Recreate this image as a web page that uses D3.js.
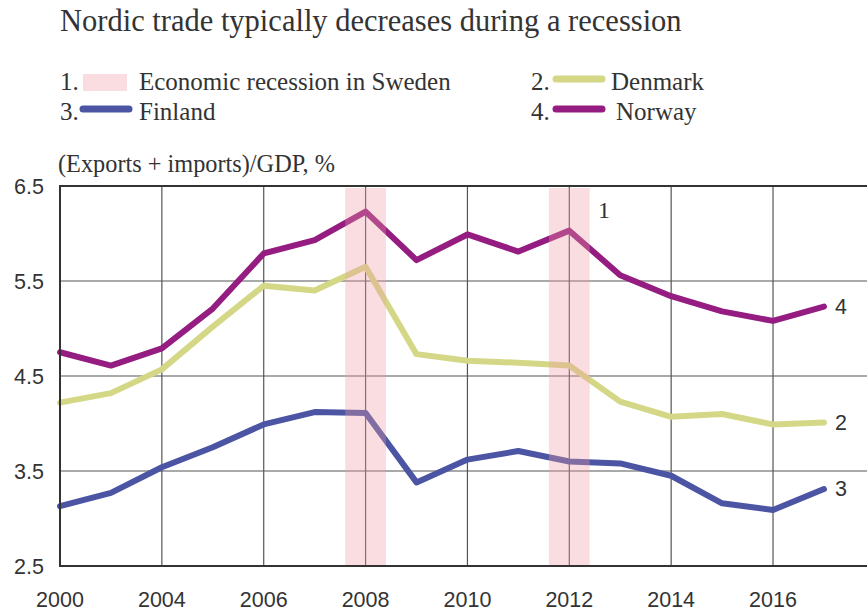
<!DOCTYPE html>
<html><head><meta charset="utf-8">
<script src="https://cdn.jsdelivr.net/npm/d3@7/dist/d3.min.js"></script>
<style>body{margin:0;background:#fff}svg{display:block}text{font-family:"Liberation Serif","DejaVu Serif",serif;fill:#333}.sans{font-family:"Liberation Sans","DejaVu Sans",sans-serif}</style>
</head><body><svg id="c" width="867" height="613"></svg>
<script>
const years = ["2000","2002","2004","2005","2006","2007","2008","2009","2010","2011","2012","2013","2014","2015","2016","2017"];
const tickYears = ["2000","2004","2006","2008","2010","2012","2014","2016"];
const yTicks = [2.5,3.5,4.5,5.5,6.5];
const recessionYears = ["2008","2012"];
const denmark = [4.22,4.32,4.57,5.02,5.45,5.40,5.65,4.73,4.66,4.64,4.61,4.23,4.07,4.10,3.99,4.01];
const finland = [3.13,3.27,3.54,3.75,3.99,4.12,4.11,3.38,3.62,3.71,3.60,3.58,3.45,3.16,3.09,3.31];
const norway  = [4.75,4.61,4.79,5.21,5.79,5.93,6.23,5.72,5.99,5.81,6.03,5.56,5.34,5.18,5.08,5.23];
const seriesNames = ["Denmark","Finland","Norway"];
const colors = {Denmark:"#d4d886",Finland:"#4b55a3",Norway:"#951c80"};
const seriesData = {Denmark:denmark,Finland:finland,Norway:norway};
const endLabels = {Denmark:"2",Finland:"3",Norway:"4"};

const svg = d3.select("#c");
const L=60, R=867, T=186, B=566;
const x = d3.scalePoint().domain(years).range([L, L+15*50.93]);
const y = d3.scaleLinear().domain([2.5,6.5]).range([B,T]);

// title
svg.append("text").attr("x",60).attr("y",31).attr("font-size",30.5).text("Nordic trade typically decreases during a recession");

// legend
const lg = svg.append("g").attr("font-size",25);
lg.append("text").attr("x",60).attr("y",90).text("1.");
lg.append("rect").attr("x",83).attr("y",74).attr("width",44).attr("height",17).attr("fill","#f9dde0");
lg.append("text").attr("x",139).attr("y",90).text("Economic recession in Sweden");
const legItems=[{n:"2.",s:"Denmark",x:531,y:90,lx:556,tx:611},{n:"3.",s:"Finland",x:60,y:120,lx:83,tx:139},{n:"4.",s:"Norway",x:531,y:120,lx:556,tx:616}];
legItems.forEach(d=>{
  lg.append("text").attr("x",d.x).attr("y",d.y).text(d.n);
  lg.append("line").attr("x1",d.lx).attr("x2",d.lx+46).attr("y1",d.y-11).attr("y2",d.y-11)
    .attr("stroke",colors[d.s]).attr("stroke-width",7).attr("stroke-linecap","round");
  lg.append("text").attr("x",d.tx).attr("y",d.y).text(d.s);
});

// axis title
svg.append("text").attr("x",58).attr("y",172).attr("font-size",24.3).text("(Exports + imports)/GDP, %");

// grid
const g = svg.append("g");
g.selectAll(".hg").data(yTicks.slice(1,-1)).join("line")
  .attr("x1",L).attr("x2",R).attr("y1",d=>y(d)).attr("y2",d=>y(d)).attr("stroke","#555").attr("stroke-width",1.2);
g.selectAll(".vg").data(tickYears.slice(1)).join("line")
  .attr("x1",d=>x(d)).attr("x2",d=>x(d)).attr("y1",T).attr("y2",B).attr("stroke","#555").attr("stroke-width",1.2);

// lines
const line = d3.line().x((d,i)=>x(years[i])).y(d=>y(d));
seriesNames.forEach(s=>{
  svg.append("path").datum(seriesData[s]).attr("d",line).attr("fill","none")
    .attr("stroke",colors[s]).attr("stroke-width",6).attr("stroke-linejoin","round").attr("stroke-linecap","round");
});

// recession bands (over lines, translucent)
const bw = x.step()*0.8;
svg.selectAll(".band").data(recessionYears).join("rect")
  .attr("x",d=>x(d)-bw/2).attr("y",T+2).attr("width",bw).attr("height",B-T-2)
  .attr("fill","#ee9aa5").attr("opacity",0.34);

// frame
svg.append("line").attr("x1",L).attr("x2",R).attr("y1",T).attr("y2",T).attr("stroke","#333").attr("stroke-width",2);
svg.append("line").attr("x1",L).attr("x2",R).attr("y1",B).attr("y2",B).attr("stroke","#333").attr("stroke-width",2);
svg.append("line").attr("x1",L).attr("x2",L).attr("y1",T-1).attr("y2",B+1).attr("stroke","#333").attr("stroke-width",2);

// y tick labels
svg.append("g").attr("font-size",21.5).selectAll("text").data(yTicks).join("text")
  .attr("class","sans").attr("x",44).attr("y",d=>y(d)+8).attr("text-anchor","end").text(d=>d.toFixed(1));
// x tick labels
svg.append("g").attr("font-size",21.5).selectAll("text").data(tickYears).join("text")
  .attr("class","sans").attr("x",d=>x(d)).attr("y",607).attr("text-anchor","middle").text(d=>d);

// end labels
seriesNames.forEach(s=>{
  const v = seriesData[s];
  svg.append("text").attr("class","sans").attr("x",x(years[years.length-1])+11).attr("y",y(v[v.length-1])+7)
    .attr("font-size",21.5).text(endLabels[s]);
});
svg.append("text").attr("x",598).attr("y",218).attr("font-size",24).text("1");
</script></body></html>
